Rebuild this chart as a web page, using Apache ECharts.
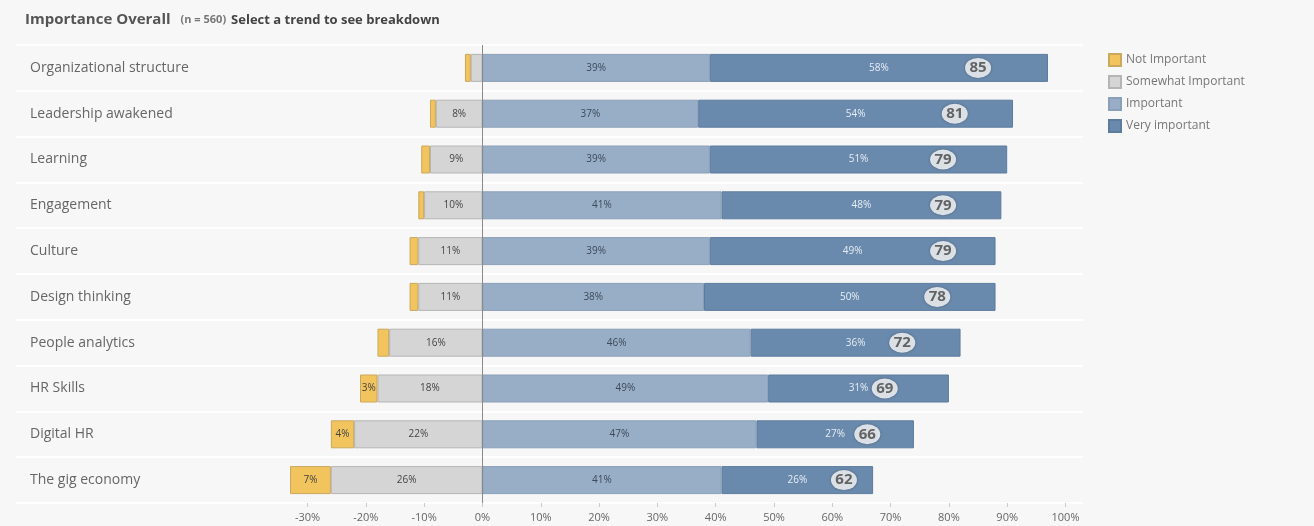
<!DOCTYPE html>
<html>
<head>
<meta charset="utf-8">
<title>Importance Overall</title>
<script src="https://cdn.jsdelivr.net/npm/echarts@6/dist/echarts.min.js"></script>
<style>
  html, body { margin: 0; padding: 0; background: #f7f7f7; }
  #chart { width: 1314px; height: 526px; }
</style>
</head>
<body>
<div id="chart"></div>
<script>
// trends, top to bottom
const trends = [
  'Organizational structure', 'Leadership awakened', 'Learning', 'Engagement', 'Culture',
  'Design thinking', 'People analytics', 'HR Skills', 'Digital HR', 'The gig economy'
]
// percentages per answer
const notImportant = [1, 1, 1.5, 1, 1.5, 1.5, 2, 3, 4, 7]
const somewhatImportant = [2, 8, 9, 10, 11, 11, 16, 18, 22, 26]
const important = [39, 37, 39, 41, 39, 38, 46, 49, 47, 41]
const veryImportant = [58, 54, 51, 48, 49, 50, 36, 31, 27, 26]
// overall importance score
const scores = [85, 81, 79, 79, 79, 78, 72, 69, 66, 62]
const tickValues = [-30, -20, -10, 0, 10, 20, 30, 40, 50, 60, 70, 80, 90, 100]

const chart = echarts.init(document.getElementById('chart'))

const pctLabel = (minShow, color) => ({
  show: true,
  position: 'inside',
  fontSize: 10,
  fontFamily: 'Open Sans',
  color: color,
  formatter: (p) => {
    const v = Math.abs(p.value)
    return v >= minShow ? Math.round(v) + '%' : ''
  }
})

const option = {
  backgroundColor: '#f7f7f7',
  animation: false,
  title: {
    left: 20,
    top: 6,
    text: '{a|Importance Overall}  {b|(n = 560)} {c|Select a trend to see breakdown}',
    textStyle: {
      rich: {
        a: { fontSize: 15, fontWeight: 'bold', color: '#555', fontFamily: 'Open Sans' },
        b: { fontSize: 11, color: '#777', fontFamily: 'Open Sans' },
        c: { fontSize: 13, fontWeight: 'bold', color: '#444', fontFamily: 'Open Sans' }
      }
    }
  },
  legend: {
    orient: 'vertical',
    left: 1103,
    top: 48,
    icon: 'rect',
    itemWidth: 12,
    itemHeight: 12,
    itemGap: 8,
    data: ['Not Important', 'Somewhat Important', 'Important', 'Very important'],
    textStyle: { color: '#777', fontSize: 12, fontFamily: 'Open Sans' }
  },
  grid: {
    left: 16,
    top: 45,
    width: 1067,
    height: 458,
    outerBoundsMode: 'none'
  },
  xAxis: {
    type: 'value',
    min: -80,
    max: 103,
    axisLine: { show: false },
    splitLine: { show: false },
    axisTick: { show: true, customValues: tickValues, length: 4, lineStyle: { color: '#ccc' } },
    axisLabel: {
      customValues: tickValues,
      formatter: (v) => v + '%',
      color: '#666',
      fontSize: 11,
      fontFamily: 'Open Sans',
      margin: 9
    }
  },
  yAxis: {
    type: 'category',
    inverse: true,
    data: trends,
    axisLine: { show: false },
    axisTick: { show: false },
    splitLine: { show: true, lineStyle: { color: '#ffffff', width: 2 } },
    axisLabel: {
      inside: true,
      margin: 14,
      color: '#666',
      fontSize: 14,
      fontFamily: 'Open Sans'
    }
  },
  series: [
    {
      name: 'Somewhat Important',
      type: 'bar',
      stack: 'total',
      barWidth: 28,
      data: somewhatImportant.map((v) => -v),
      itemStyle: { color: '#d5d5d5', borderColor: '#b5b5b5', borderWidth: 1 },
      label: pctLabel(5, '#444')
    },
    {
      name: 'Not Important',
      type: 'bar',
      stack: 'total',
      barWidth: 28,
      data: notImportant.map((v) => -v),
      itemStyle: { color: '#f1c45e', borderColor: '#c9a85f', borderWidth: 1 },
      label: pctLabel(3, '#444')
    },
    {
      name: 'Important',
      type: 'bar',
      stack: 'total',
      barWidth: 28,
      data: important,
      itemStyle: { color: '#98aec6', borderColor: '#8aa0b8', borderWidth: 1 },
      label: pctLabel(1, '#3c4a5a'),
      markLine: {
        silent: true,
        symbol: 'none',
        label: { show: false },
        lineStyle: { color: '#8a8a8a', width: 1, type: 'solid' },
        data: [{ xAxis: 0 }]
      }
    },
    {
      name: 'Very important',
      type: 'bar',
      stack: 'total',
      barWidth: 28,
      data: veryImportant,
      itemStyle: { color: '#6a8aad', borderColor: '#5c7c9e', borderWidth: 1 },
      label: pctLabel(1, '#e6edf5')
    },
    {
      name: 'Score',
      type: 'scatter',
      data: scores.map((s, i) => [s, i]),
      symbol: 'circle',
      symbolSize: [26, 20],
      z: 5,
      itemStyle: {
        color: '#ffffff',
        shadowColor: 'rgba(0,0,0,0.35)',
        shadowBlur: 3
      },
      label: {
        show: true,
        position: 'inside',
        formatter: (p) => p.value[0],
        color: '#444',
        fontSize: 15,
        fontWeight: 'bold',
        fontFamily: 'Open Sans'
      }
    }
  ]
}

chart.setOption(option)
</script>
</body>
</html>
